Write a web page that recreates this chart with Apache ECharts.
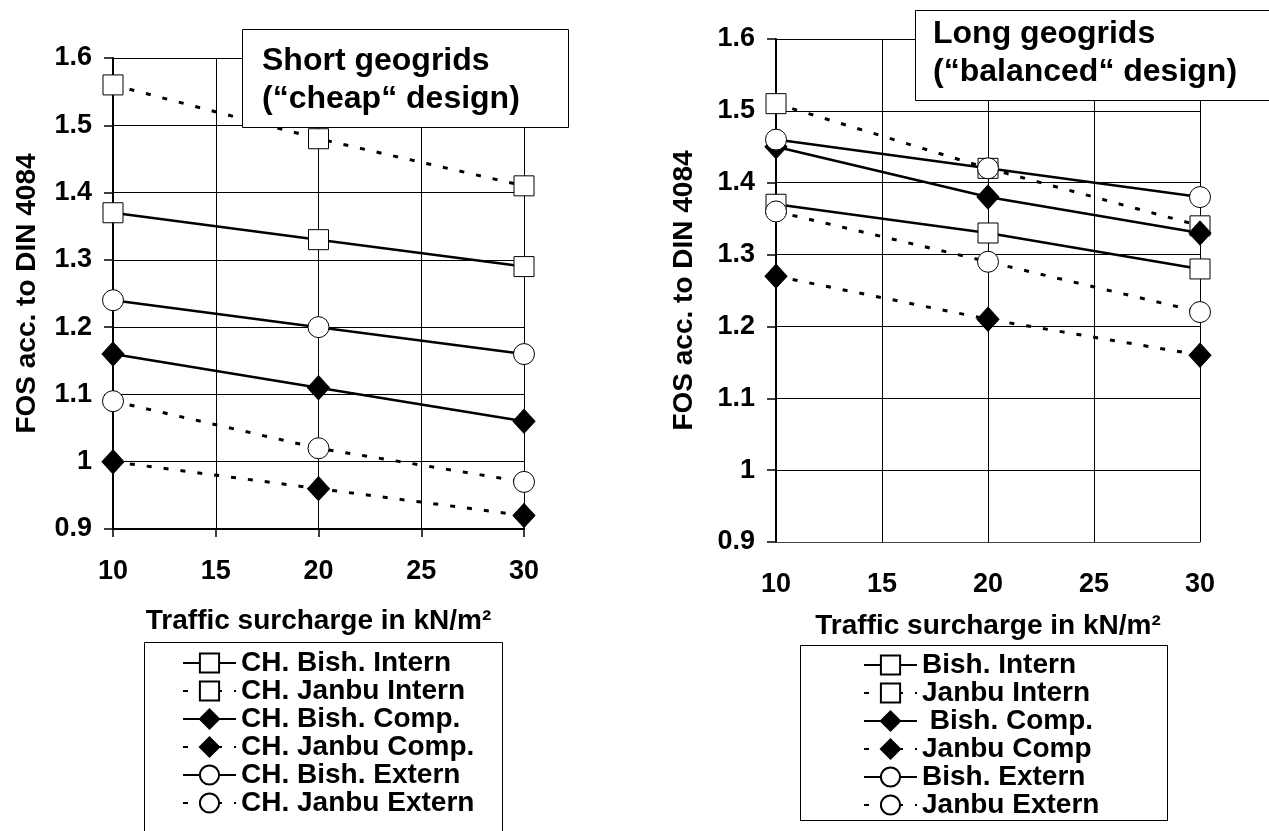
<!DOCTYPE html>
<html><head><meta charset="utf-8">
<script src="https://cdn.jsdelivr.net/npm/echarts@6/dist/echarts.min.js"></script>
<style>html,body{margin:0;padding:0;background:#fff}#c{width:1269px;height:831px}</style>
</head><body><div id="c"></div>
<script>
// ---- data ----
const surcharge = [10, 20, 30];              // kN/m2
const xTickMin = 10, xTickMax = 30, xTickStep = 5;
const yTickMin = 0.9, yTickMax = 1.6, yTickStep = 0.1;

// Short geogrids ("cheap" design)
const chBishIntern  = [1.37, 1.33, 1.29];
const chJanbuIntern = [1.56, 1.48, 1.41];
const chBishComp    = [1.16, 1.11, 1.06];
const chJanbuComp   = [1.00, 0.96, 0.92];
const chBishExtern  = [1.24, 1.20, 1.16];
const chJanbuExtern = [1.09, 1.02, 0.97];

// Long geogrids ("balanced" design)
const bishIntern  = [1.37, 1.33, 1.28];
const janbuIntern = [1.51, 1.42, 1.34];
const bishComp    = [1.45, 1.38, 1.33];
const janbuComp   = [1.27, 1.21, 1.16];
const bishExtern  = [1.46, 1.42, 1.38];
const janbuExtern = [1.36, 1.29, 1.22];

const leftNames  = ['CH. Bish. Intern','CH. Janbu Intern','CH. Bish. Comp.','CH. Janbu Comp.','CH. Bish. Extern','CH. Janbu Extern'];
const rightNames = ['Bish. Intern','Janbu Intern',' Bish. Comp.','Janbu Comp','Bish. Extern','Janbu Extern'];
const leftTitle  = 'Short geogrids\n(\u201Ccheap\u201C design)';
const rightTitle = 'Long geogrids\n(\u201Cbalanced\u201C design)';
const xName = 'Traffic surcharge in kN/m\u00B2';
const yName = 'FOS acc. to DIN 4084';

// ---- styling ----
const FF = '"Liberation Sans", Arial, Helvetica, sans-serif';
const txt = (size) => ({fontFamily: FF, fontWeight: 'bold', fontSize: size, color: '#000'});

const kinds = [
  {symbol: 'rect',    size: 20,       fill: '#fff', dashed: false},
  {symbol: 'rect',    size: 20,       fill: '#fff', dashed: true},
  {symbol: 'diamond', size: [22, 24], fill: '#000', dashed: false},
  {symbol: 'diamond', size: [22, 24], fill: '#000', dashed: true},
  {symbol: 'circle',  size: 21,       fill: '#fff', dashed: false},
  {symbol: 'circle',  size: 21,       fill: '#fff', dashed: true}
];

function mk(name, vals, k, gi) {
  return {
    type: 'line', name: name, xAxisIndex: gi, yAxisIndex: gi,
    data: surcharge.map((x, i) => [x, vals[i]]),
    symbol: k.symbol, symbolSize: k.size, showSymbol: true,
    lineStyle: k.dashed ? {color: '#000', width: 3, type: [5, 12]} : {color: '#000', width: 2.5, type: 'solid'},
    itemStyle: {color: k.fill, borderColor: '#000', borderWidth: 1},
    emphasis: {disabled: true}, animation: false, z: 3
  };
}

const leftVals  = [chBishIntern, chJanbuIntern, chBishComp, chJanbuComp, chBishExtern, chJanbuExtern];
const rightVals = [bishIntern, janbuIntern, bishComp, janbuComp, bishExtern, janbuExtern];
const series = [];
leftVals.forEach((v, i) => series.push(mk(leftNames[i], v, kinds[i], 0)));
rightVals.forEach((v, i) => series.push(mk(rightNames[i], v, kinds[i], 1)));

function xAxis(gi, ticks, axisW, axisC, gap) {
  return {
    type: 'value', gridIndex: gi, min: xTickMin, max: xTickMax, interval: xTickStep,
    axisLine: {show: true, onZero: false, lineStyle: {color: axisC, width: axisW}},
    axisTick: {show: ticks, length: 8, lineStyle: {color: '#000', width: 1.5}},
    axisLabel: Object.assign(txt(27), {margin: 29}),
    splitLine: {show: true, lineStyle: {color: '#000', width: 1}},
    name: xName, nameLocation: 'middle', nameGap: gap, nameTextStyle: txt(28)
  };
}
function yAxis(gi, gap) {
  return {
    type: 'value', gridIndex: gi, min: yTickMin, max: yTickMax, interval: yTickStep,
    axisLine: {show: true, lineStyle: {color: '#000', width: 2}},
    axisTick: {show: true, length: 9, lineStyle: {color: '#000', width: 1.5}},
    axisLabel: Object.assign(txt(27), {margin: 21}),
    splitLine: {show: true, lineStyle: {color: '#000', width: 1}},
    name: yName, nameLocation: 'middle', nameRotate: 90, nameGap: gap, nameTextStyle: txt(28)
  };
}

const legendBase = {
  orient: 'vertical', itemWidth: 53, itemHeight: 24, itemGap: 0, padding: 0,
  selectedMode: false, textStyle: Object.assign(txt(28), {lineHeight: 28}), z: 6
};

const option = {
  animation: false,
  backgroundColor: '#fff',
  grid: [
    {left: 113, top: 58, width: 411, height: 471, show: false},
    {left: 776, top: 39, width: 424, height: 503, show: false}
  ],
  xAxis: [xAxis(0, true, 2, '#000', 78), xAxis(1, false, 1, '#444', 70)],
  yAxis: [yAxis(0, 72), yAxis(1, 78)],
  legend: [
    Object.assign({}, legendBase, {left: 182, top: 649, data: leftNames}),
    Object.assign({}, legendBase, {left: 863, top: 651, data: rightNames})
  ],
  title: [
    {text: leftTitle, left: 262, top: 42, padding: 0, z: 10, textStyle: Object.assign(txt(32), {lineHeight: 38})},
    {text: rightTitle, left: 933, top: 15, padding: 0, z: 10, textStyle: Object.assign(txt(32), {lineHeight: 38})}
  ],
  graphic: [
    {type: 'rect', z: 8, shape: {x: 242.5, y: 29.5, width: 326, height: 98}, style: {fill: '#fff', stroke: '#000', lineWidth: 1}},
    {type: 'rect', z: 8, shape: {x: 915.5, y: 10.5, width: 380, height: 90}, style: {fill: '#fff', stroke: '#000', lineWidth: 1}},
    {type: 'rect', z: 1, shape: {x: 144.5, y: 642.5, width: 358, height: 220}, style: {fill: '#fff', stroke: '#000', lineWidth: 1}},
    {type: 'rect', z: 1, shape: {x: 800.5, y: 645.5, width: 367, height: 175}, style: {fill: '#fff', stroke: '#000', lineWidth: 1}}
  ],
  series: series
};

const chart = echarts.init(document.getElementById('c'), null, {renderer: 'canvas'});
chart.setOption(option);
</script>
</body></html>
